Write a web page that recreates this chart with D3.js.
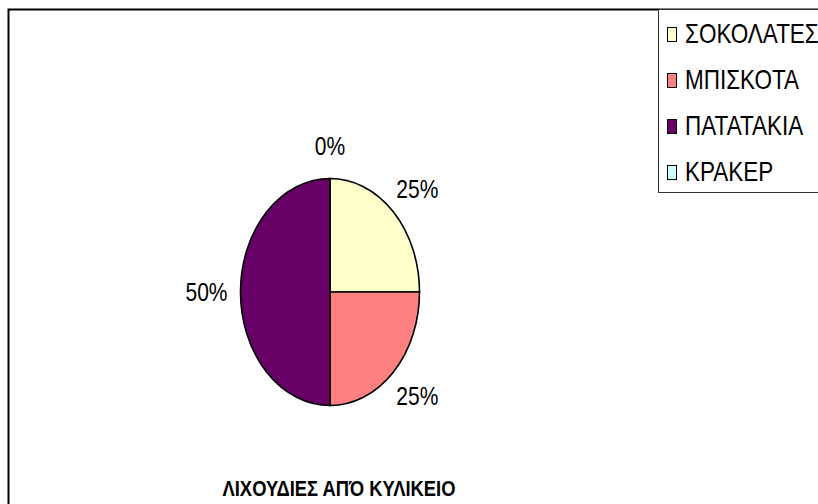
<!DOCTYPE html>
<html>
<head>
<meta charset="utf-8">
<script src="https://cdn.jsdelivr.net/npm/d3@7"></script>
<style>
  html, body { margin: 0; padding: 0; background: #fff; }
  svg { display: block; font-family: "Liberation Sans", Arial, sans-serif; }
</style>
</head>
<body>
<svg id="chart" width="818" height="504"></svg>
<script>
// Snack sales at the school canteen (share of total)
const categories = ["ΣΟΚΟΛΑΤΕΣ", "ΜΠΙΣΚΟΤΑ", "ΠΑΤΑΤΑΚΙΑ", "ΚΡΑΚΕΡ"];
const values = [25, 25, 50, 0];
const colors = ["#FFFFCC", "#FF8080", "#660066", "#CCFFFF"];
const title = "ΛΙΧΟΥΔΙΕΣ ΑΠΌ ΚΥΛΙΚΕΙΟ";

// the whole chart is drawn slightly taller than wide
const stretchY = 1.25;

const svg = d3.select("#chart");

// chart area frame (runs off the right/bottom edge)
svg.append("rect")
  .attr("x", 8.5).attr("y", 9.5)
  .attr("width", 900).attr("height", 600)
  .attr("fill", "#fff")
  .attr("stroke", "#000").attr("stroke-width", 2);

// elliptical pie
const cx = 330, cy = 292, rx = 89.5, ry = 113.5;
const data = categories.map((c, i) => ({ name: c, value: values[i], color: colors[i] }));
const pie = d3.pie().sort(null).value(d => d.value);
const arcs = pie(data);
const arc = d3.arc().innerRadius(0).outerRadius(1);
const total = d3.sum(values);
const fmt = d3.format(".0%");

const g = svg.append("g").attr("transform", `translate(${cx},${cy})`);
g.selectAll("path.slice")
  .data(arcs)
  .join("path")
  .attr("class", "slice")
  .attr("d", arc)
  .attr("transform", `scale(${rx},${ry})`)
  .attr("fill", d => d.data.color)
  .attr("stroke", "#000")
  .attr("stroke-width", 1.6)
  .attr("vector-effect", "non-scaling-stroke");

// percentage labels outside the ellipse
const lrx = rx + 34, lry = ry + 33;
g.selectAll("g.pct")
  .data(arcs)
  .join("g")
  .attr("class", "pct")
  .attr("transform", d => {
    const a = (d.startAngle + d.endAngle) / 2;
    const x = Math.sin(a) * lrx;
    const y = -Math.cos(a) * lry;
    return `translate(${x},${y}) scale(1,${stretchY})`;
  })
  .append("text")
  .attr("dy", "0.36em")
  .attr("text-anchor", "middle")
  .attr("font-size", 21)
  .attr("fill", "#000")
  .text(d => fmt(d.data.value / total));

// legend
const lg = svg.append("g");
lg.append("rect")
  .attr("x", 658.5).attr("y", 9.5)
  .attr("width", 200).attr("height", 183)
  .attr("fill", "#fff")
  .attr("stroke", "#333").attr("stroke-width", 1);

const rowY = d3.scalePoint().domain(categories).range([33, 171]);
const rows = lg.selectAll("g.item")
  .data(data)
  .join("g")
  .attr("class", "item")
  .attr("transform", d => `translate(0,${rowY(d.name)})`);
rows.append("rect")
  .attr("x", 667.5).attr("y", -5.5)
  .attr("width", 9).attr("height", 14)
  .attr("fill", d => d.color)
  .attr("stroke", "#000").attr("stroke-width", 1);
rows.append("g")
  .attr("transform", `translate(685,0) scale(1,${stretchY})`)
  .append("text")
  .attr("dy", "0.36em")
  .attr("font-size", 22.5)
  .attr("fill", "#000")
  .text(d => d.name);

// chart title
svg.append("g")
  .attr("transform", `translate(339,488) scale(1,${stretchY})`)
  .append("text")
  .attr("dy", "0.36em")
  .attr("text-anchor", "middle")
  .attr("font-size", 17)
  .attr("font-weight", "bold")
  .attr("textLength", 233)
  .attr("lengthAdjust", "spacingAndGlyphs")
  .text(title);
</script>
</body>
</html>
